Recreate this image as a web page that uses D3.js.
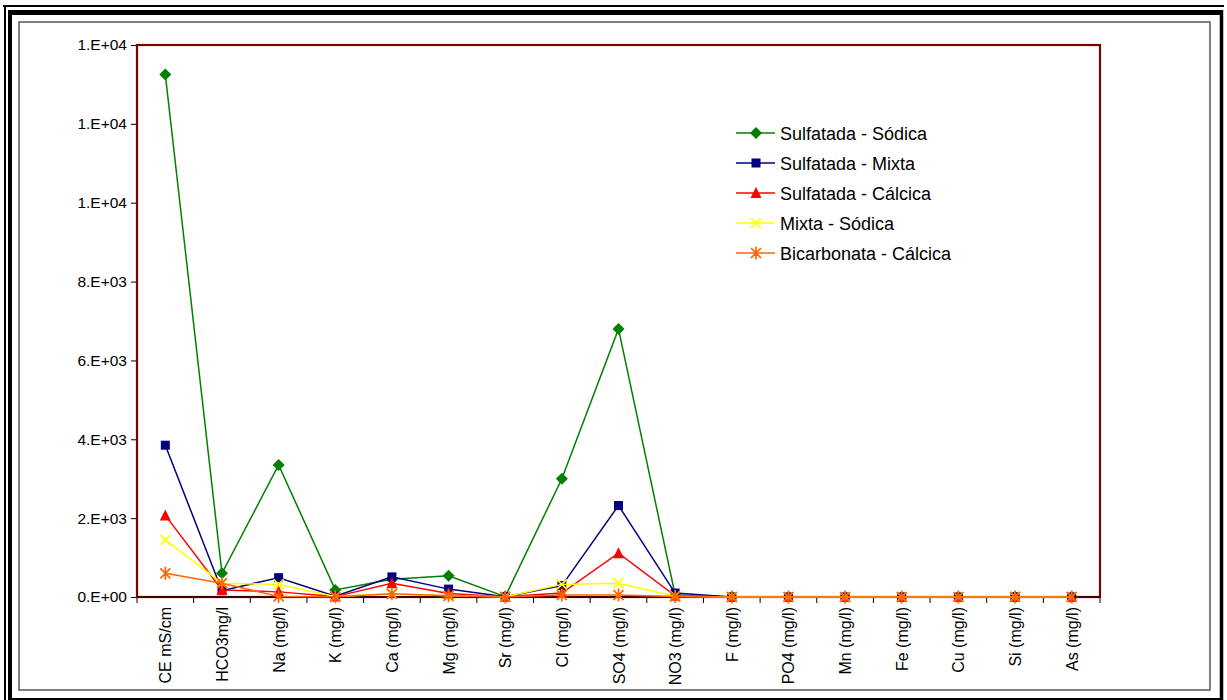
<!DOCTYPE html>
<html>
<head>
<meta charset="utf-8">
<script src="https://cdn.jsdelivr.net/npm/d3@7"></script>
<style>
  html, body { margin: 0; padding: 0; background: #fff; }
  svg { display: block; }
  text { font-family: "Liberation Sans", Arial, sans-serif; fill: #000; }
</style>
</head>
<body>
<svg id="chart" width="1227" height="700"></svg>
<script>
// Parameters measured in each water type
const categories = ["CE mS/cm", "HCO3mg/l", "Na (mg/l)", "K (mg/l)", "Ca (mg/l)", "Mg (mg/l)",
  "Sr (mg/l)", "Cl (mg/l)", "SO4 (mg/l)", "NO3 (mg/l)", "F (mg/l)", "PO4 (mg/l)",
  "Mn (mg/l)", "Fe (mg/l)", "Cu (mg/l)", "Si (mg/l)", "As (mg/l)"];

// Mean values per hydrochemical facies
const sulfatadaSodica   = [13250, 600, 3350, 180, 450, 540, 10, 3000, 6800, 50, 1.5, 0.5, 0.3, 0.2, 0.02, 4, 0.01];
const sulfatadaMixta    = [3850, 160, 490, 20, 510, 200, 6, 290, 2320, 100, 1.2, 0.4, 0.3, 0.2, 0.02, 4, 0.01];
const sulfatadaCalcica  = [2070, 180, 130, 10, 350, 90, 5, 100, 1110, 30, 1.0, 0.3, 0.2, 0.1, 0.02, 3, 0.01];
const mixtaSodica       = [1450, 350, 320, 10, 80, 30, 4, 320, 350, 20, 1.0, 0.3, 0.1, 0.1, 0.01, 3, 0.01];
const bicarbonataCalcica = [600, 350, 15, 5, 80, 30, 2, 50, 50, 10, 0.5, 0.2, 0.1, 0.1, 0.01, 2, 0.01];

const seriesNames = ["Sulfatada - Sódica", "Sulfatada - Mixta", "Sulfatada - Cálcica",
  "Mixta - Sódica", "Bicarbonata - Cálcica"];
const seriesValues = [sulfatadaSodica, sulfatadaMixta, sulfatadaCalcica, mixtaSodica, bicarbonataCalcica];
const seriesColors = ["#008000", "#000080", "#FF0000", "#FFFF00", "#FF6600"];
const seriesMarkers = ["diamond", "square", "triangle", "cross", "asterisk"];

const yTicks = [0, 2000, 4000, 6000, 8000, 10000, 12000, 14000];

const svg = d3.select("#chart");

// Chart frame: thin outer line, heavy shadow line, grey inner border
const frame = svg.append("g").attr("fill", "none");
frame.append("path").attr("d", "M3,6 H1224 M5,5 V700").attr("stroke", "#000").attr("stroke-width", 2);
frame.append("path").attr("d", "M8,12.5 H1223").attr("stroke", "#000").attr("stroke-width", 5);
frame.append("path").attr("d", "M10,10 V700").attr("stroke", "#000").attr("stroke-width", 4);
frame.append("path").attr("d", "M1221.5,10 V700").attr("stroke", "#000").attr("stroke-width", 3.5);
frame.append("path").attr("d", "M8,699 H1221").attr("stroke", "#000").attr("stroke-width", 2);
frame.append("rect").attr("x", 19).attr("y", 22).attr("width", 1191).attr("height", 668)
  .attr("stroke", "#555").attr("stroke-width", 1.5);

const plot = { left: 137, right: 1100, top: 45, bottom: 597 };

const x = d3.scalePoint().domain(categories).range([plot.left, plot.right]).padding(0.5);
const xBand = d3.scaleBand().domain(categories).range([plot.left, plot.right]);
const y = d3.scaleLinear().domain([0, 14000]).range([plot.bottom, plot.top]);

// Scientific label with one-digit mantissa: 0.E+00, 2.E+03, 1.E+04
function sci(v) {
  if (v === 0) return "0.E+00";
  const e = Math.floor(Math.log10(v));
  const m = Math.round(v / Math.pow(10, e));
  return m + ".E+" + String(e).padStart(2, "0");
}

// Y axis
const yAxis = svg.append("g").attr("transform", `translate(${plot.left},0)`)
  .call(d3.axisLeft(y).tickValues(yTicks).tickFormat(sci).tickSize(6).tickPadding(4));
yAxis.select(".domain").remove();
yAxis.selectAll("line").attr("stroke", "#000");
yAxis.selectAll("text").style("font-size", "15.5px").attr("fill", "#000")
  .style("font-family", "'Liberation Sans', Arial, sans-serif");

// X axis: ticks between categories, vertical labels
const xg = svg.append("g").attr("transform", `translate(0,${plot.bottom})`);
const bounds = categories.map(c => xBand(c)).concat([plot.right]);
xg.selectAll("line.tick").data(bounds).join("line")
  .attr("x1", d => d).attr("x2", d => d).attr("y1", 0).attr("y2", 6)
  .attr("stroke", "#000");
xg.selectAll("text.lab").data(categories).join("text")
  .attr("class", "lab")
  .attr("transform", d => `translate(${x(d) + 6},10) rotate(-90)`)
  .attr("text-anchor", "end")
  .style("font-size", "16px")
  .text(d => d);

// Plot area border
svg.append("rect")
  .attr("x", plot.left).attr("y", plot.top)
  .attr("width", plot.right - plot.left).attr("height", plot.bottom - plot.top)
  .attr("fill", "none").attr("stroke", "#800000").attr("stroke-width", 2.2);
svg.append("line").attr("x1", plot.left).attr("x2", plot.right)
  .attr("y1", plot.bottom).attr("y2", plot.bottom).attr("stroke", "#300000").attr("stroke-width", 1.5);

// Marker shapes
function marker(g, type, color) {
  if (type === "diamond") {
    g.append("path").attr("d", "M0,-6 L6,0 L0,6 L-6,0 Z").attr("fill", color);
  } else if (type === "square") {
    g.append("rect").attr("x", -4.5).attr("y", -4.5).attr("width", 9).attr("height", 9).attr("fill", color);
  } else if (type === "triangle") {
    g.append("path").attr("d", "M0,-6 L5.5,5 L-5.5,5 Z").attr("fill", color);
  } else if (type === "cross") {
    g.append("path").attr("d", "M-5,-5 L5,5 M-5,5 L5,-5").attr("stroke", color).attr("stroke-width", 1.7);
  } else if (type === "asterisk") {
    g.append("path").attr("d", "M-5,-5 L5,5 M-5,5 L5,-5 M0,-6.5 V6.5")
      .attr("stroke", color).attr("stroke-width", 1.7);
  }
}

const line = d3.line().x((d, i) => x(categories[i])).y(d => y(d));

seriesValues.forEach((vals, s) => {
  const g = svg.append("g");
  g.append("path").datum(vals).attr("d", line)
    .attr("fill", "none").attr("stroke", seriesColors[s]).attr("stroke-width", 1.5);
  vals.forEach((v, i) => {
    const m = g.append("g").attr("transform", `translate(${x(categories[i])},${y(v)})`);
    marker(m, seriesMarkers[s], seriesColors[s]);
  });
});

// Legend
const legend = svg.append("g");
seriesNames.forEach((name, s) => {
  const ly = 133 + s * 30;
  const row = legend.append("g");
  row.append("line").attr("x1", 736).attr("x2", 775).attr("y1", ly).attr("y2", ly)
    .attr("stroke", seriesColors[s]).attr("stroke-width", 1.5);
  marker(row.append("g").attr("transform", `translate(756,${ly})`), seriesMarkers[s], seriesColors[s]);
  row.append("text").attr("x", 780).attr("y", ly + 6.5).style("font-size", "18px").text(name);
});
</script>
</body>
</html>
